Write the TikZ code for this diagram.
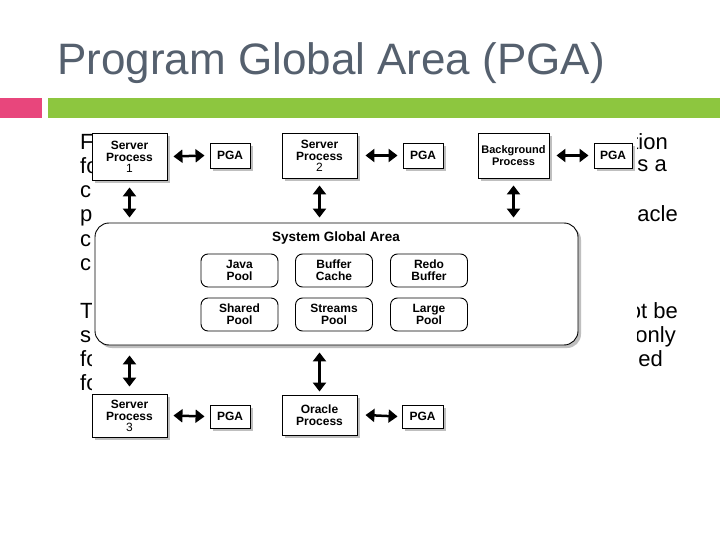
\documentclass[tikz,border=0pt]{standalone}
\usepackage{fontspec}
\setmainfont{Liberation Sans}
\usetikzlibrary{arrows.meta}
\definecolor{ttl}{HTML}{55606E}
\definecolor{pnk}{HTML}{E8467C}
\definecolor{grn}{HTML}{8DC63F}
\begin{document}
\begin{tikzpicture}[x=1pt,y=-1pt,
 box/.style={draw,line width=0.9pt,fill=white,align=center,font=\bfseries\fontsize{12}{12}\selectfont,inner sep=0pt},
 pool/.style={draw,line width=0.9pt,rounded corners=7pt,fill=white,align=center,font=\bfseries\fontsize{12}{12}\selectfont,minimum width=77pt,minimum height=33pt,inner sep=0pt},
 dbl/.style={{Triangle[width=13pt,length=9pt]}-{Triangle[width=13pt,length=9pt]},line width=2.5pt},
 bg/.style={font=\fontsize{22}{22}\selectfont,text=black,anchor=base west,inner sep=0pt},
 bge/.style={bg,anchor=base east},
 sh/.style={fill=black!25}]
\useasboundingbox (0,0) rectangle (720,540);
\fill[white] (0,0) rectangle (720,540);
\node[anchor=base west,inner sep=0pt,text=ttl,font=\fontsize{44}{44}\selectfont] (title) at (57,75) {Program Global Area (PGA)};
\fill[pnk] (0,98) rectangle (42,118);
\fill[grn] (48,98) rectangle (720,118);
% background text fragments
\foreach \t/\y [count=\i] in {F/150,fo/174,c/198,p/222,c/246,c/270,T/318,s/342,fo/366,fo/390}
  \node[bg] (l\i) at (80,\y) {\t};
\node[bge] (r1) at (668,150) {tion};
\node[bge] (r2) at (667,172) {is a};
\node[bge] (r3) at (678,222) {Oracle};
\node[bge] (r4) at (678,318) {not be};
\node[bge] (r5) at (676,342) {only};
\node[bge] (r6) at (663,366) {ed};
\fill[white] (92,130) rectangle (637,440);
% shadows
\foreach \a/\b/\c/\d in {92/133/167/180,282/133/357/178,478/133/549/178,92/394/167/437,282/395/357/435,210/143/250/168,403/143/443/168,594/143/632/168,210/405/250/428,402/405/443/428}
  \fill[sh] (\a+3,\b+3) rectangle (\c+3,\d+3);
\node[box,minimum width=75pt,minimum height=47pt] (sp1) at (129.5,156.5) {Server\\Process\\[-1pt]\mdseries 1};
\node[box,minimum width=75pt,minimum height=45pt] (sp2) at (319.5,155.5) {Server\\Process\\[-1pt]\mdseries 2};
\node[box,minimum width=71pt,minimum height=45pt,font=\bfseries\fontsize{11}{12}\selectfont] (bgp) at (513.5,155.5) {Background\\Process};
\node[box,minimum width=75pt,minimum height=43pt] (sp3) at (129.5,415.5) {Server\\Process\\[-1pt]\mdseries 3};
\node[box,minimum width=75pt,minimum height=40pt] (op) at (319.5,415) {Oracle\\Process};
\node[box,minimum width=40pt,minimum height=25pt] (p1) at (230,155.5) {PGA};
\node[box,minimum width=40pt,minimum height=25pt] (p2) at (423,155.5) {PGA};
\node[box,minimum width=38pt,minimum height=25pt] (p3) at (613,155.5) {PGA};
\node[box,minimum width=40pt,minimum height=23pt] (p4) at (230,416.5) {PGA};
\node[box,minimum width=41pt,minimum height=23pt] (p5) at (422.5,416.5) {PGA};
% SGA
\fill[sh,rounded corners=14pt] (98,226) rectangle (581,348);
\node[draw,line width=0.9pt,fill=white,rounded corners=14pt,minimum width=483pt,minimum height=122pt,inner sep=0pt] (sga) at (336.5,284) {};
\node[font=\bfseries\fontsize{13.5}{13.5}\selectfont] (sgat) at (336,238) {System Global Area};
\foreach \n/\t/\x/\y in {jp/Java\\Pool/239.5/270.5,bc/Buffer\\Cache/334/270.5,rb/Redo\\Buffer/429/270.5,shp/Shared\\Pool/239.5/314.5,stp/Streams\\Pool/334/314.5,lp/Large\\Pool/429/314.5}
  \node[pool] (\n) at (\x,\y) {\t};
\coordinate (sgn) at ([yshift=5pt]sga.north);
\coordinate (sgs1) at ([yshift=-10pt]sga.south);
\coordinate (sgs2) at ([yshift=-7pt]sga.south);
% arrows
\draw[dbl] ([xshift=6pt]sp1.east) -- ([xshift=-5pt]p1.west);
\draw[dbl] ([xshift=8pt]sp2.east) -- ([xshift=-5pt]p2.west);
\draw[dbl] ([xshift=7pt]bgp.east) -- ([xshift=-5pt]p3.west);
\draw[dbl] ([xshift=6pt]sp3.east) -- ([xshift=-5pt]p4.west);
\draw[dbl] ([xshift=8pt]op.east) -- ([xshift=-4pt]p5.west);
\draw[dbl] ([yshift=-7pt]sp1.south) -- (sp1.south |- sgn);
\draw[dbl] ([yshift=-7pt]sp2.south) -- (sp2.south |- sgn);
\draw[dbl] ([yshift=-7pt]bgp.south) -- (bgp.south |- sgn);
\draw[dbl] ([yshift=7pt]sp3.north) -- (sp3.north |- sgs1);
\draw[dbl] ([yshift=3pt]op.north) -- (op.north |- sgs2);
\end{tikzpicture}
\end{document}
